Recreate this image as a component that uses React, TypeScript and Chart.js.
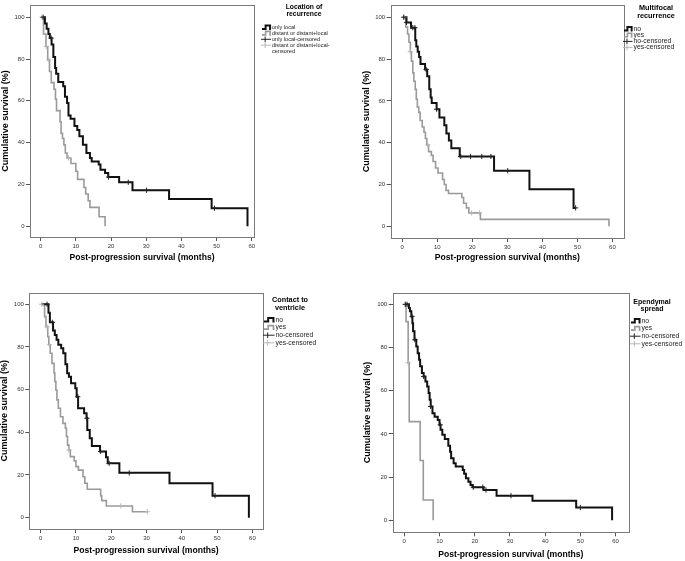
import React, { useEffect, useRef } from "react";
import { Chart, registerables } from "chart.js";

Chart.register(...registerables);

const FONT = "'Liberation Sans', Arial, sans-serif";

// ---------- shared axis data ----------
const xTicks = [0, 10, 20, 30, 40, 50, 60];
const yTicks = [0, 20, 40, 60, 80, 100];
const xTitle = "Post-progression survival (months)";
const yTitle = "Cumulative survival (%)";

// ---------- Panel 1: Location of recurrence ----------
const locTitle = ["Location of", "recurrence"];
const locLabels = ["only local", "distant or distant+local", "only local-censored", "distant or distant+local-censored"];
const locLocalTimes = [0.3, 1.2, 1.7, 2.2, 2.6, 3.1, 3.6, 4.1, 4.4, 5.0, 6.4, 6.9, 7.5, 7.9, 8.5, 9.6, 10.4, 11.0, 12.0, 13.0, 14.0, 14.5, 16.5, 17.0, 18.3, 19.2, 22.3, 26.1, 36.5, 48.6, 58.8];
const locLocalSurv = [100, 97, 94.5, 92, 90, 87, 81, 75.7, 73, 69, 67, 62, 59, 53, 51.4, 48, 46, 43, 39, 35, 32.6, 31, 29.5, 27, 25.5, 23.5, 21, 17.2, 13, 8.6, 0];
const locLocalCens = [0.7, 3.0, 19.3, 24.9, 30.1, 49.4];
const locDistTimes = [0.1, 0.8, 1.5, 2.0, 2.5, 3.0, 3.8, 4.2, 4.5, 5.5, 5.8, 6.2, 6.6, 7.0, 7.5, 8.6, 10.0, 10.5, 12.3, 12.8, 13.5, 14.0, 16.6, 18.3];
const locDistSurv = [100, 92, 86, 79.6, 74, 68.7, 65.5, 60.8, 55.3, 50, 44.4, 42, 38.9, 35, 32.6, 30, 26.3, 22.4, 18.5, 15.4, 12.2, 9, 4.5, 0];
const locDistCens = [0.4, 1.6, 2.3, 7.9];

// ---------- Panel 2: Multifocal recurrence ----------
const mfTitle = ["Multifocal", "recurrence"];
const mfLabels = ["no", "yes", "no-censored", "yes-censored"];
const mfNoTimes = [0.3, 1.2, 2.5, 3.7, 4.0, 4.4, 4.8, 5.2, 6.5, 7.1, 7.7, 8.1, 8.4, 9.8, 10.6, 12.0, 12.6, 13.3, 14.0, 16.4, 26.2, 36.3, 48.9, 49.5];
const mfNoSurv = [100, 97.5, 95, 89, 86, 83.5, 81, 77.6, 75, 71.8, 65.5, 61.6, 59, 56, 52, 48.3, 44.4, 41, 37.3, 33.4, 26.6, 17.7, 8.8, 8.8];
const mfNoCens = [0.4, 1.2, 3.0, 3.6, 6.8, 9.8, 16.7, 19.5, 22.7, 25.3, 30.1, 49.5];
const mfYesTimes = [0.2, 1.0, 1.5, 1.9, 2.3, 2.6, 3.0, 3.3, 3.7, 4.0, 4.3, 4.7, 5.1, 5.7, 6.2, 6.6, 7.0, 7.5, 8.3, 8.8, 9.5, 10.2, 11.5, 12.0, 12.5, 13.2, 17.0, 17.5, 18.3, 19.0, 22.3, 59.0];
const mfYesSurv = [100, 95.3, 92, 88, 83.5, 79, 73.4, 69.4, 65.5, 60.8, 57, 54.5, 50.6, 47.5, 45, 42, 38.9, 35.7, 33.9, 31, 27.9, 25.5, 22.4, 20, 17.2, 15.7, 13.8, 11, 8.8, 6.4, 3.3, 0];
const mfYesCens = [0.5, 2.3, 7.3, 19.8, 22.0];

// ---------- Panel 3: Contact to ventricle ----------
const cvTitle = ["Contact to", "ventricle"];
const cvLabels = ["no", "yes", "no-censored", "yes-censored"];
const cvNoTimes = [0.3, 2.2, 2.6, 3.5, 4.0, 4.5, 5.0, 5.8, 6.4, 7.0, 7.5, 8.0, 8.6, 9.8, 10.2, 10.6, 12.3, 13.0, 13.2, 13.9, 14.5, 16.8, 18.5, 19.0, 22.3, 36.5, 48.7, 59.0];
const cvNoSurv = [100, 96, 91.5, 87.7, 85.6, 83.3, 81, 79.4, 77, 71.9, 67.7, 66, 63, 60.6, 56.7, 51.3, 48.9, 46.6, 41.1, 37.2, 33.6, 31, 28.3, 25.5, 21, 16.1, 10.3, 0];
const cvNoCens = [1.8, 3.3, 10.5, 13.1, 17.0, 19.4, 25.1, 49.4];
const cvYesTimes = [0.1, 1.1, 1.5, 2.0, 2.3, 2.7, 3.2, 3.8, 4.0, 4.3, 4.6, 5.0, 5.6, 6.3, 7.0, 7.3, 7.6, 8.0, 8.4, 9.5, 10.0, 10.7, 12.0, 12.5, 13.2, 17.0, 17.3, 18.6, 26.0, 30.2];
const cvYesSurv = [100, 94.2, 89.5, 84.8, 81, 77, 72.3, 67.7, 63.8, 59.8, 55.2, 51.3, 47.3, 44.2, 41.9, 38, 34, 31.7, 28.6, 26.6, 23.9, 22.3, 19.2, 16.1, 13.3, 10.2, 8, 5.5, 2.8, 2.8];
const cvYesCens = [0.3, 1.8, 2.5, 8.0, 22.7, 30.2];

// ---------- Panel 4: Ependymal spread ----------
const epTitle = ["Ependymal", "spread"];
const epLabels = ["no", "yes", "no-censored", "yes-censored"];
const epNoTimes = [0.3, 1.3, 1.6, 2.0, 2.3, 2.5, 2.9, 3.4, 3.8, 4.2, 4.5, 5.0, 5.5, 6.0, 6.5, 6.9, 7.2, 7.5, 8.0, 8.6, 9.5, 10.0, 10.3, 10.8, 11.5, 12.5, 13.0, 13.3, 14.0, 14.6, 16.6, 17.0, 17.5, 18.2, 18.8, 19.4, 22.5, 26.2, 36.4, 48.8, 59.0];
const epNoSurv = [100, 98.3, 96.8, 94.4, 91.3, 87.5, 83.6, 80.5, 77.4, 74.3, 71.3, 68.2, 66.6, 64.3, 62, 58.9, 55.8, 52.7, 49.6, 48, 46.5, 44.2, 41.9, 39.6, 37.6, 34.5, 31.8, 28.7, 26.4, 24.9, 23.3, 21.5, 19.5, 17.9, 16.4, 15.3, 14, 11.4, 9, 5.9, 0];
const epNoCens = [0.3, 0.8, 2.2, 3.0, 5.5, 7.5, 10.2, 19.6, 22.3, 23.2, 30.3, 50.0];
const epYesTimes = [0.2, 0.5, 1.1, 1.4, 4.5, 5.4, 8.2];
const epYesSurv = [100, 92, 73, 45.7, 27.7, 9.4, 0];
const epYesCens = [0.2, 1.1];

// ---------- helpers ----------
function survAt(times: number[], surv: number[], t: number) {
  let v = surv[0];
  for (let i = 0; i < times.length; i++) if (times[i] <= t) v = surv[i];
  return v;
}

const BLACK = "#111111";
const GRAY = "#9a9a9a";
const BLACK_C = "#222222";
const GRAY_C = "#b8b8b8";

function buildDatasets(labels: string[], aT: number[], aS: number[], aC: number[], bT: number[], bS: number[], bC: number[]) {
  return [
    { label: labels[0], data: aT.map((t, i) => ({ x: t, y: aS[i] })), showLine: true, stepped: true, borderColor: BLACK, borderWidth: 2, pointRadius: 0, order: 1 },
    { label: labels[1], data: bT.map((t, i) => ({ x: t, y: bS[i] })), showLine: true, stepped: true, borderColor: GRAY, borderWidth: 1.6, pointRadius: 0, order: 2 },
    { label: labels[2], data: aC.map((t) => ({ x: t, y: survAt(aT, aS, t) })), showLine: false, pointStyle: "cross", pointRadius: 2.6, borderColor: BLACK_C, pointBorderWidth: 1, order: 0 },
    { label: labels[3], data: bC.map((t) => ({ x: t, y: survAt(bT, bS, t) })), showLine: false, pointStyle: "cross", pointRadius: 2.6, borderColor: GRAY_C, pointBorderWidth: 1, order: 0 },
  ];
}

type Panel = {
  canvas: { x: number; y: number; w: number; h: number };
  area: { l: number; t: number; r: number; b: number };
  xRange: [number, number];
  yRange: [number, number];
  yTitleX: number;
  xTitleY: number;
  legend: {
    title: string[]; titleX: number; titleY: number; titleLine: number; titleSize: number;
    glyphX: number; textX: number; itemY: number; itemLine: number; itemSize: number; wrap: string[][];
  };
  datasets: any[];
};

const panels: Panel[] = [
  {
    canvas: { x: 0, y: 0, w: 342, h: 268 },
    area: { l: 30, t: 1, r: 254, b: 237 },
    xRange: [-3.04, 60.65], yRange: [-5.17, 105.8],
    yTitleX: 6, xTitleY: 258,
    legend: { title: locTitle, titleX: 304, titleY: 7, titleLine: 6.8, titleSize: 6.8, glyphX: 262, textX: 272, itemY: 27.5, itemLine: 5.9, itemSize: 5.6,
      wrap: [[locLabels[0]], [locLabels[1]], [locLabels[2]], ["distant or distant+local-", "censored"]] },
    datasets: buildDatasets(locLabels, locLocalTimes, locLocalSurv, locLocalCens, locDistTimes, locDistSurv, locDistCens),
  },
  {
    canvas: { x: 342, y: 0, w: 343, h: 268 },
    area: { l: 390.7, t: 1, r: 624, b: 238 },
    xRange: [-3.31, 63.3], yRange: [-5.6, 105.8],
    yTitleX: 366.5, xTitleY: 258,
    legend: { title: mfTitle, titleX: 656, titleY: 8, titleLine: 7.5, titleSize: 7.3, glyphX: 624, textX: 633.5, itemY: 29, itemLine: 6.2, itemSize: 6.8,
      wrap: mfLabels.map((l) => [l]) },
    datasets: buildDatasets(mfLabels, mfNoTimes, mfNoSurv, mfNoCens, mfYesTimes, mfYesSurv, mfYesCens),
  },
  {
    canvas: { x: 0, y: 270, w: 342, h: 291 },
    area: { l: 29.3, t: 292.7, r: 263, b: 529 },
    xRange: [-3.23, 63.0], yRange: [-5.3, 105.4],
    yTitleX: 5, xTitleY: 551,
    legend: { title: cvTitle, titleX: 290, titleY: 300, titleLine: 7.7, titleSize: 7.3, glyphX: 264, textX: 275.5, itemY: 320, itemLine: 7.6, itemSize: 6.8,
      wrap: cvLabels.map((l) => [l]) },
    datasets: buildDatasets(cvLabels, cvNoTimes, cvNoSurv, cvNoCens, cvYesTimes, cvYesSurv, cvYesCens),
  },
  {
    canvas: { x: 342, y: 270, w: 343, h: 291 },
    area: { l: 392.7, t: 292.7, r: 629, b: 532.3 },
    xRange: [-3.29, 63.8], yRange: [-5.56, 105.4],
    yTitleX: 368, xTitleY: 555,
    legend: { title: epTitle, titleX: 652, titleY: 302, titleLine: 7, titleSize: 7, glyphX: 631, textX: 641.5, itemY: 321, itemLine: 7.6, itemSize: 6.8,
      wrap: epLabels.map((l) => [l]) },
    datasets: buildDatasets(epLabels, epNoTimes, epNoSurv, epNoCens, epYesTimes, epYesSurv, epYesCens),
  },
];

const Y_TITLE_SIZE = 9;
const X_TITLE_SIZE = 8.6;

function makeBoxPlugin() {
  return {
    id: "kmBox",
    afterDatasetsDraw(chart: any) {
      const { ctx, chartArea } = chart;
      ctx.save();
      ctx.strokeStyle = "#7a7a7a";
      ctx.lineWidth = 1;
      ctx.strokeRect(Math.round(chartArea.left) + 0.5, Math.round(chartArea.top) + 0.5,
        Math.round(chartArea.right) - Math.round(chartArea.left), Math.round(chartArea.bottom) - Math.round(chartArea.top));
      ctx.restore();
    },
  };
}

function makeLegendPlugin(p: Panel) {
  const L = p.legend;
  return {
    id: "kmLegend",
    afterDraw(chart: any) {
      const ctx = chart.ctx;
      const ox = p.canvas.x;
      const oy = p.canvas.y;
      ctx.save();
      ctx.fillStyle = "#000";
      ctx.textBaseline = "middle";
      ctx.textAlign = "center";
      ctx.font = `bold ${L.titleSize}px ${FONT}`;
      L.title.forEach((line, i) => ctx.fillText(line, L.titleX - ox, L.titleY - oy + i * L.titleLine));
      ctx.font = `${L.itemSize}px ${FONT}`;
      ctx.textAlign = "left";
      let y = L.itemY - oy;
      const gx = L.glyphX - ox;
      const gw = L.textX - L.glyphX - 1;
      chart.data.datasets.forEach((ds: any, i: number) => {
        const lines = L.wrap[i];
        ctx.strokeStyle = ds.borderColor;
        if (ds.showLine) {
          ctx.lineWidth = ds.borderWidth;
          ctx.beginPath();
          ctx.moveTo(gx, y + 1.5);
          ctx.lineTo(gx + gw * 0.4, y + 1.5);
          ctx.lineTo(gx + gw * 0.4, y - 2);
          ctx.lineTo(gx + gw * 0.9, y - 2);
          ctx.lineTo(gx + gw * 0.9, y + 1.5);
          ctx.lineTo(gx + gw, y + 1.5);
          ctx.stroke();
        } else {
          ctx.lineWidth = 1;
          ctx.beginPath();
          ctx.moveTo(gx - 1, y);
          ctx.lineTo(gx + gw, y);
          ctx.moveTo(gx + gw * 0.35, y - 2.8);
          ctx.lineTo(gx + gw * 0.35, y + 2.8);
          ctx.stroke();
        }
        ctx.fillStyle = "#222";
        lines.forEach((txt: string, j: number) => ctx.fillText(txt, L.textX - ox, y + j * L.itemLine));
        y += lines.length * L.itemLine + (lines.length > 1 ? 0 : 0);
      });
      ctx.restore();
    },
  };
}

function PanelChart({ p }: { p: Panel }) {
  const ref = useRef<HTMLCanvasElement | null>(null);
  useEffect(() => {
    if (!ref.current) return;
    const c = p.canvas;
    const a = p.area;
    const padLeft = p.yTitleX - c.x - Y_TITLE_SIZE / 2;
    const yAxisWidth = a.l - c.x - padLeft;
    const padTop = a.t - c.y;
    const padRight = c.x + c.w - a.r;
    const padBottom = c.y + c.h - p.xTitleY - X_TITLE_SIZE / 2;
    const xAxisHeight = c.y + c.h - padBottom - a.b;

    const chart = new Chart(ref.current, {
      type: "scatter",
      data: { datasets: p.datasets },
      options: {
        animation: false,
        responsive: false,
        devicePixelRatio: 1,
        layout: { autoPadding: false, padding: { left: padLeft, top: padTop, right: padRight, bottom: padBottom } },
        plugins: { legend: { display: false }, tooltip: { enabled: false } },
        scales: {
          x: {
            type: "linear",
            min: p.xRange[0],
            max: p.xRange[1],
            afterBuildTicks: (s: any) => { s.ticks = xTicks.map((v) => ({ value: v })); },
            afterFit: (s: any) => { s.height = xAxisHeight; },
            grid: { display: true, drawOnChartArea: false, drawTicks: true, tickLength: 4, tickColor: "#555", lineWidth: 1 },
            border: { display: false },
            ticks: { font: { size: 6, family: FONT }, color: "#333", padding: 1.5, maxRotation: 0, autoSkip: false },
            title: { display: true, text: xTitle, color: "#000", padding: 0, font: { size: X_TITLE_SIZE, weight: "bold", family: FONT, lineHeight: 1 } },
          },
          y: {
            type: "linear",
            min: p.yRange[0],
            max: p.yRange[1],
            afterBuildTicks: (s: any) => { s.ticks = yTicks.map((v) => ({ value: v })); },
            afterFit: (s: any) => { s.width = yAxisWidth; },
            grid: { display: true, drawOnChartArea: false, drawTicks: true, tickLength: 4, tickColor: "#555", lineWidth: 1 },
            border: { display: false },
            ticks: { font: { size: 6, family: FONT }, color: "#333", padding: 1.5, autoSkip: false },
            title: { display: true, text: yTitle, color: "#000", padding: 0, font: { size: Y_TITLE_SIZE, weight: "bold", family: FONT, lineHeight: 1 } },
          },
        },
      },
      plugins: [makeBoxPlugin(), makeLegendPlugin(p)],
    } as any);
    return () => chart.destroy();
  }, [p]);
  return (
    <canvas
      ref={ref}
      width={p.canvas.w}
      height={p.canvas.h}
      style={{ position: "absolute", left: p.canvas.x, top: p.canvas.y, width: p.canvas.w, height: p.canvas.h }}
    />
  );
}

export default function App() {
  return (
    <div style={{ position: "absolute", left: 0, top: 0, width: 685, height: 561, background: "#fff", overflow: "hidden" }}>
      {panels.map((p, i) => (
        <PanelChart key={i} p={p} />
      ))}
    </div>
  );
}
